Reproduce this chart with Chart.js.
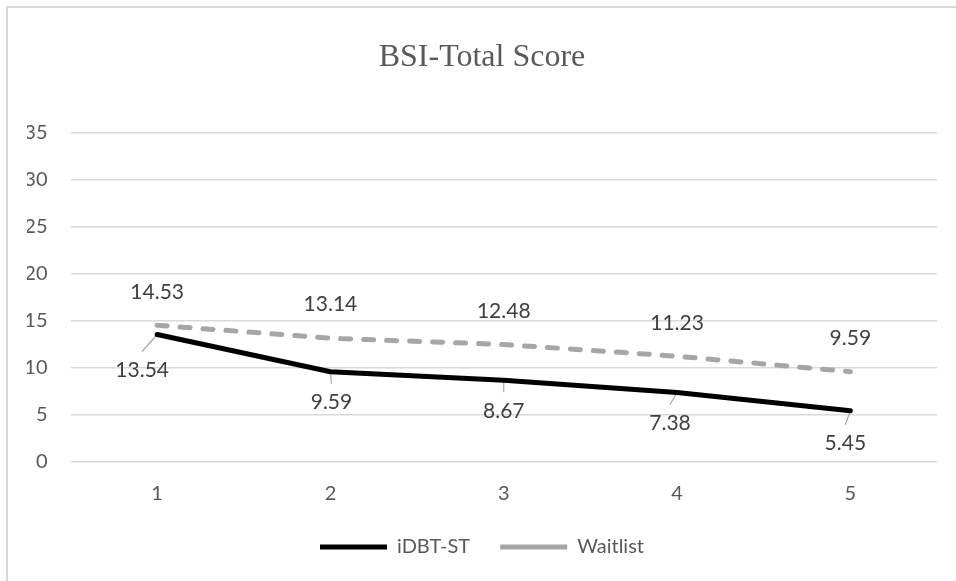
<!DOCTYPE html>
<html><head><meta charset="utf-8">
<script src="https://cdn.jsdelivr.net/npm/chart.js@4"></script>
<style>
html,body{margin:0;padding:0;background:#fff;overflow:hidden;}
#wrap{position:relative;width:956px;height:581px;overflow:hidden;}
#frame{position:absolute;left:6px;top:6px;width:960px;height:590px;border-left:2px solid #d9d9d9;border-top:2px solid #d9d9d9;pointer-events:none;}
canvas{position:absolute;left:0;top:0;}
</style></head><body>
<div id="wrap"><canvas id="c" width="956" height="581"></canvas><div id="frame"></div></div>
<script>
const categories = ['1', '2', '3', '4', '5'];
const idbtValues = [13.54, 9.59, 8.67, 7.38, 5.45];
const waitlistValues = [14.53, 13.14, 12.48, 11.23, 9.59];
const yTicks = [0, 5, 10, 15, 20, 25, 30, 35];
const seriesNames = ['iDBT-ST', 'Waitlist'];

const labelPlugin = {
  id: 'valueLabels',
  beforeDatasetsDraw(chart, args, opts) {
    const ctx = chart.ctx;
    ctx.save();
    ctx.strokeStyle = opts.leaderColor;
    ctx.lineWidth = 1.2;
    chart.data.datasets.forEach((ds, di) => {
      if (!opts.leaders[di]) return;
      const meta = chart.getDatasetMeta(di);
      meta.data.forEach((pt, i) => {
        const off = opts.offsets[di][i];
        ctx.beginPath();
        ctx.moveTo(pt.x, pt.y);
        ctx.lineTo(pt.x + off[0], pt.y + off[1] - opts.leaderGap);
        ctx.stroke();
      });
    });
    ctx.restore();
  },
  afterDatasetsDraw(chart, args, opts) {
    const ctx = chart.ctx;
    ctx.save();
    ctx.font = opts.font;
    ctx.fillStyle = opts.color;
    ctx.textAlign = 'center';
    ctx.textBaseline = 'middle';
    chart.data.datasets.forEach((ds, di) => {
      const meta = chart.getDatasetMeta(di);
      meta.data.forEach((pt, i) => {
        const off = opts.offsets[di][i];
        ctx.fillText(ds.data[i].toFixed(2), pt.x + off[0], pt.y + off[1]);
      });
    });
    ctx.restore();
  }
};

new Chart(document.getElementById('c'), {
  type: 'line',
  data: {
    labels: categories,
    datasets: [
      {
        label: seriesNames[0],
        data: idbtValues,
        borderColor: '#000000',
        backgroundColor: '#000000',
        borderWidth: 5,
        borderCapStyle: 'round',
        borderJoinStyle: 'round',
        pointRadius: 0,
        tension: 0,
        fill: false
      },
      {
        label: seriesNames[1],
        data: waitlistValues,
        borderColor: '#a6a6a6',
        backgroundColor: '#a6a6a6',
        borderWidth: 5,
        borderDash: [10, 13],
        borderCapStyle: 'round',
        borderJoinStyle: 'round',
        pointRadius: 0,
        tension: 0,
        fill: false
      }
    ]
  },
  options: {
    responsive: false,
    animation: false,
    layout: { padding: { left: 27, right: 19, top: 0, bottom: 14 } },
    scales: {
      x: {
        offset: true,
        afterFit(scale) { scale.height = 45; },
        grid: { display: false },
        border: { display: false },
        ticks: { color: '#595959', font: { family: 'Lato', size: 20 }, padding: 12 }
      },
      y: {
        min: yTicks[0],
        max: yTicks[yTicks.length - 1],
        afterBuildTicks(scale) { scale.ticks = yTicks.map(v => ({ value: v })); },
        afterFit(scale) { scale.width = 43.5; },
        grid: { color: '#d9d9d9', lineWidth: 1.5, drawTicks: false },
        border: { display: false },
        ticks: { color: '#595959', font: { family: 'Lato', size: 20 }, padding: 23 }
      }
    },
    plugins: {
      title: {
        display: true,
        text: 'BSI-Total Score',
        color: '#595959',
        font: { family: 'Liberation Serif', size: 32, weight: 'normal' },
        padding: { top: 38, bottom: 56 }
      },
      legend: {
        position: 'bottom',
        labels: {
          usePointStyle: true,
          pointStyle: 'line',
          pointStyleWidth: 67,
          color: '#595959',
          font: { family: 'Lato', size: 20 },
          padding: 30
        }
      },
      tooltip: { enabled: false },
      valueLabels: {
        font: '21px Lato',
        color: '#404040',
        leaderColor: '#a6a6a6',
        leaderGap: 19,
        leaders: [true, false],
        offsets: [
          [[-15, 36], [1, 31], [0, 31], [-7, 31], [-5, 33]],
          [[0, -33], [0, -34], [0, -33], [0, -33], [0, -33]]
        ]
      }
    }
  },
  plugins: [labelPlugin]
});
</script>
</body></html>
